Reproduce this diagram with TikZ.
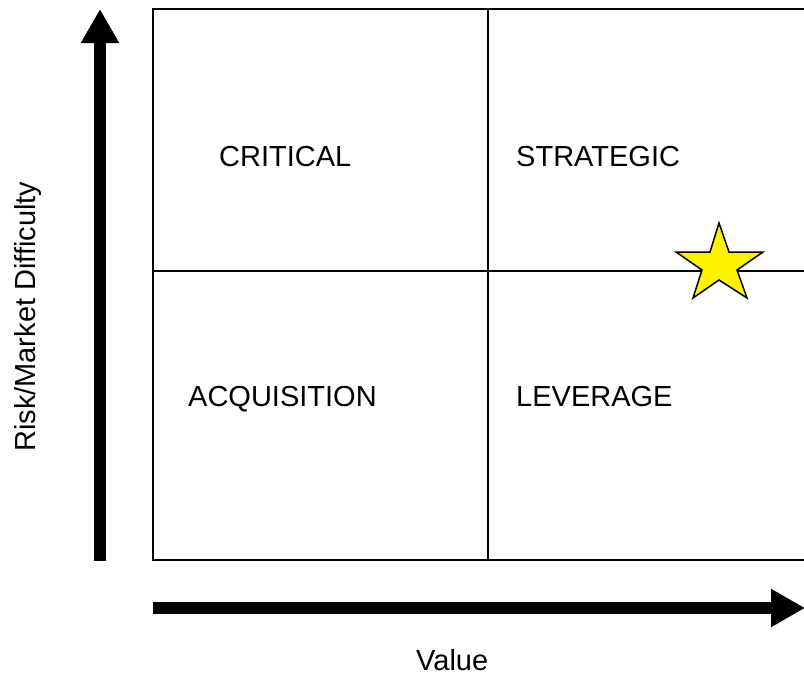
\documentclass[tikz,border=0pt]{standalone}
\usepackage{fontspec}
\setmainfont{Liberation Sans}
\usetikzlibrary{arrows.meta}
\begin{document}
\begin{tikzpicture}[x=1pt,y=-1pt,
  gridline/.style={line width=1.5pt,black},
  axisarrow/.style={line width=12pt,black,-{Triangle[width=36pt,length=34pt]}},
  lbl/.style={font=\fontsize{29}{34}\selectfont,inner sep=0pt,anchor=base west},
  starshape/.style={draw=black,line width=1.5pt,fill=yellow,line join=miter}]
\useasboundingbox (0,0) rectangle (804,675);
% grid
\coordinate (tl) at (153,9);
\coordinate (bl) at (153,560);
\coordinate (tm) at (488,9);
\coordinate (bm) at (488,560);
\coordinate (tr) at (806,9);
\coordinate (br) at (806,560);
\coordinate (ml) at (153,271);
\coordinate (mr) at (806,271);
\begin{scope}
\clip (0,0) rectangle (804,675);
\draw[gridline] (tr) -- (tl) -- (bl) -- (br);
\draw[gridline] (tm) -- (bm);
\draw[gridline] (ml) -- (mr);
\end{scope}
% labels
\node[lbl] (critical) at (219,166) {CRITICAL};
\node[lbl] (strategic) at (516,166) {STRATEGIC};
\node[lbl] (acq) at (188,406) {ACQUISITION};
\node[lbl] (lev) at (516,406) {LEVERAGE};
\node[lbl] (value) at (416,670) {Value};
\node[lbl,rotate=90] (risk) at (35,452) {Risk/Market Difficulty};
% axes
\coordinate (vs) at (100,561);
\coordinate (ve) at (100,9);
\coordinate (hs) at (153,608);
\coordinate (he) at (805,608);
\draw[axisarrow] (vs) -- (ve);
\draw[axisarrow] (hs) -- (he);
% star
\draw[starshape] (719,223) -- (729,252) -- (763,252) -- (737,270) -- (747,298)
  -- (719,280) -- (693,298) -- (702,270) -- (676,252) -- (710,252) -- cycle;
\end{tikzpicture}
\end{document}
